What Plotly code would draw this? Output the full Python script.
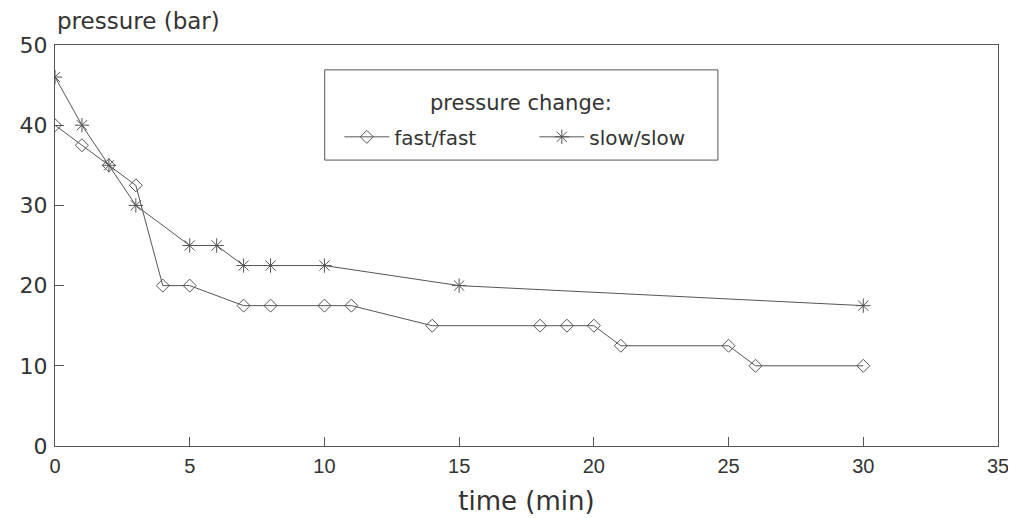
import plotly.graph_objects as go

fast_t = [0, 1, 2, 3, 4, 5, 7, 8, 10, 11, 14, 18, 19, 20, 21, 25, 26, 30]
fast_p = [40, 37.5, 35, 32.5, 20, 20, 17.5, 17.5, 17.5, 17.5, 15, 15, 15, 15, 12.5, 12.5, 10, 10]
slow_t = [0, 1, 2, 3, 5, 6, 7, 8, 10, 15, 30]
slow_p = [46, 40, 35, 30, 25, 25, 22.5, 22.5, 22.5, 20, 17.5]
x_ticks = [0, 5, 10, 15, 20, 25, 30, 35]
y_ticks = [0, 10, 20, 30, 40, 50]

col = "#555555"
txt = "#333333"
fig = go.Figure()
fig.add_trace(go.Scatter(x=fast_t, y=fast_p, mode="lines+markers", name="fast/fast",
                         line=dict(color=col, width=1),
                         marker=dict(symbol="diamond-open", size=10, color=col, line=dict(width=1))))
fig.add_trace(go.Scatter(x=slow_t, y=slow_p, mode="lines+markers", name="slow/slow",
                         line=dict(color=col, width=1),
                         marker=dict(symbol="asterisk-open", size=12, color=col, line=dict(width=1))))

fig.update_layout(
    width=1016, height=518,
    margin=dict(l=47, r=26, t=37, b=80),
    paper_bgcolor="white", plot_bgcolor="white",
    font=dict(family="DejaVu Sans", color=txt),
    xaxis=dict(range=[0, 35], tickvals=x_ticks, ticks="inside", ticklen=9, tickcolor=col,
               showline=True, linecolor=col, mirror=True, showgrid=False, zeroline=False,
               automargin=False, ticklabelstandoff=2,
               tickfont=dict(family="Liberation Sans", size=20, color=txt),
               title=dict(text="time (min)", font=dict(family="DejaVu Sans", size=26, color=txt), standoff=15)),
    yaxis=dict(range=[0, 50], tickvals=y_ticks, ticks="inside", ticklen=9, tickcolor=col,
               showline=True, linecolor=col, mirror=True, showgrid=False, zeroline=False,
               automargin=False, ticklabelstandoff=2,
               tickfont=dict(family="DejaVu Sans", size=22, color=txt)),
    legend=dict(orientation="h", x=0.3015, y=0.771, xanchor="left", yanchor="middle",
                borderwidth=0, bgcolor="rgba(0,0,0,0)",
                font=dict(family="DejaVu Sans", size=20, color=txt),
                itemwidth=45, entrywidthmode="pixels", entrywidth=135),
    showlegend=True,
)
# legend frame and title
fig.add_shape(type="rect", xref="paper", yref="paper", x0=0.286, x1=0.703, y0=0.713, y1=0.938,
              line=dict(color=col, width=1), fillcolor="rgba(0,0,0,0)")
fig.add_annotation(text="pressure change:", xref="paper", yref="paper", x=0.494, y=0.855,
                   xanchor="center", yanchor="middle", showarrow=False,
                   font=dict(family="DejaVu Sans", size=21, color=txt))
fig.add_annotation(text="pressure (bar)", xref="paper", yref="paper", x=0, y=1, xanchor="left",
                   yanchor="bottom", yshift=9, showarrow=False,
                   font=dict(family="DejaVu Sans", size=23, color=txt))
fig.write_html("out.html")
